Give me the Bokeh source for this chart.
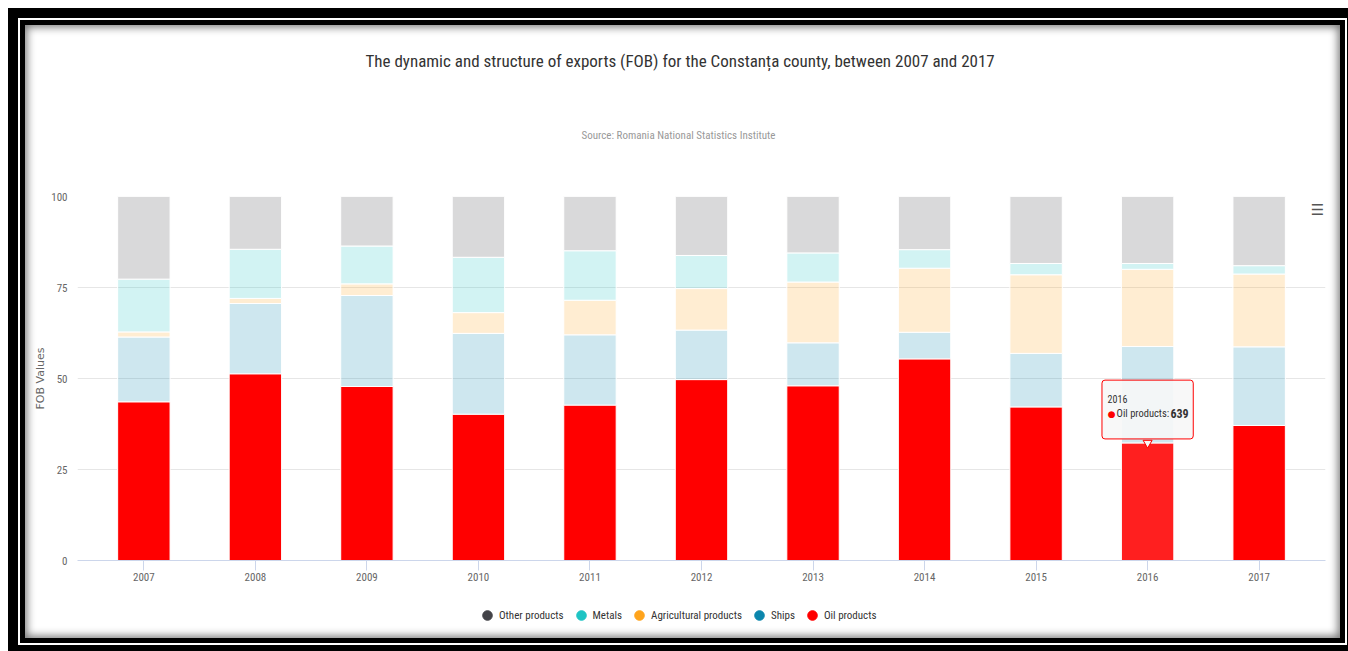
from bokeh.plotting import figure
from bokeh.layouts import column
from bokeh.models import (ColumnDataSource, FactorRange, Range1d, FixedTicker, Title,
                          Legend, LegendItem, Label)
from bokeh.core.properties import value
from bokeh.embed import file_html
from bokeh.resources import INLINE

# ---------------- data (shares of FOB exports, %) ----------------
years = ["2007", "2008", "2009", "2010", "2011", "2012", "2013", "2014", "2015", "2016", "2017"]
oil_products = [43.6, 51.3, 47.8, 40.2, 42.7, 49.7, 48.0, 55.4, 42.2, 32.3, 37.1]
ships = [17.8, 19.3, 25.0, 22.2, 19.3, 13.6, 11.8, 7.3, 14.7, 26.5, 21.6]
agricultural_products = [1.4, 1.4, 3.2, 5.7, 9.5, 11.4, 16.7, 17.6, 21.6, 21.2, 20.0]
metals = [14.5, 13.5, 10.4, 15.2, 13.6, 9.1, 8.0, 5.1, 3.1, 1.6, 2.3]
other_products = [22.7, 14.5, 13.6, 16.7, 14.9, 16.2, 15.5, 14.6, 18.4, 18.4, 19.0]

series_names = ["Other products", "Metals", "Agricultural products", "Ships", "Oil products"]
y_ticks = [0, 25, 50, 75, 100]

tooltip_year = "2016"
tooltip_series = "Oil products"
tooltip_value = 639

title_text = "The dynamic and structure of exports (FOB) for the Constan\u021ba county, between 2007 and 2017"
subtitle_text = "Source: Romania National Statistics Institute"

# ---------------- styling ----------------
FONT = "Liberation Sans Narrow, Roboto Condensed, Arial Narrow, sans-serif"
C_OTHER, C_METALS, C_AGRI, C_SHIPS, C_OIL = "#434348", "#1ec4c4", "#ffa41c", "#0c86ad", "#ff0000"
W, H_MAIN, H_LEG = 1315, 560, 53

src = ColumnDataSource(dict(
    year=years,
    oil=oil_products,
    ships=ships,
    agri=agricultural_products,
    metals=metals,
    other=other_products,
    oil_color=["#ff1f1f" if y == tooltip_year else C_OIL for y in years],
))

p = figure(
    width=W, height=H_MAIN,
    x_range=FactorRange(*years, range_padding=0.095, range_padding_units="absolute"),
    y_range=Range1d(0, 100),
    output_backend="svg", toolbar_location=None,
    min_border_left=52, min_border_right=15, min_border_top=171, min_border_bottom=25,
)
p.border_fill_color = "white"
p.border_fill_alpha = 0
p.background_fill_color = "white"
p.outline_line_color = None

stackers = ["oil", "ships", "agri", "metals", "other"]
p.vbar_stack(
    stackers, x="year", width=0.47, source=src,
    fill_color=["oil_color", C_SHIPS, C_AGRI, C_METALS, C_OTHER],
    fill_alpha=[1.0, 0.2, 0.2, 0.2, 0.2],
    line_color="white", line_width=1,
)

# ---------------- axes & grid ----------------
p.xgrid.grid_line_color = None
p.ygrid.grid_line_color = "#e6e6e6"

xa = p.xaxis[0]
xa.axis_line_color = "#ccd6eb"
xa.major_tick_line_color = "#ccd6eb"
xa.major_tick_out = 10
xa.major_tick_in = 0
xa.major_label_standoff = 2
xa.major_label_text_font = FONT
xa.major_label_text_font_size = "11px"
xa.major_label_text_color = "#666666"

ya = p.yaxis[0]
ya.ticker = FixedTicker(ticks=y_ticks)
ya.axis_line_color = None
ya.major_tick_line_color = None
ya.minor_tick_line_color = None
ya.major_tick_out = 0
ya.major_tick_in = 0
ya.major_label_standoff = 10
ya.major_label_text_font = FONT
ya.major_label_text_font_size = "11px"
ya.major_label_text_color = "#666666"
ya.axis_label = "FOB Values"
ya.axis_label_text_font = "DejaVu Sans"
ya.axis_label_text_font_size = "11px"
ya.axis_label_text_font_style = "normal"
ya.axis_label_text_color = "#666666"
ya.axis_label_standoff = 1

# ---------------- titles ----------------
sub = Title(text=subtitle_text, align="left", offset=504, text_font=FONT,
            text_font_size="11px", text_font_style="normal", text_color="#999999",
            standoff=109)
ttl = Title(text=title_text, align="left", offset=288, text_font=FONT,
            text_font_size="17px", text_font_style="normal", text_color="#333333",
            standoff=4)
p.add_layout(sub, "above")
p.add_layout(ttl, "above")

# ---------------- tooltip ----------------
ti = years.index(tooltip_year)
tip = ColumnDataSource(dict(
    x=[tooltip_year], y=[oil_products[ti]],
    box=["%s\n\u25cf %s: %d" % (tooltip_year, tooltip_series, tooltip_value)],
    head=[tooltip_year], bullet=["\u25cf"], lab=["%s:" % tooltip_series],
    val=[str(tooltip_value)],
))
p.text(x="x", y="y", text="box", source=tip, text_alpha=0,
       text_align="center", text_baseline="bottom", y_offset=-4,
       text_font=value(FONT), text_font_size="10.5px", text_line_height=2.6,
       padding=6, border_radius=3,
       background_fill_color="#f7f7f7", background_fill_alpha=0.9,
       border_line_color=C_OIL, border_line_width=1)
p.scatter(x="x", y="y", source=tip, marker="inverted_triangle", size=9,
          fill_color="#f7f7f7", line_color=C_OIL, line_width=1)
p.text(x="x", y="y", text="head", source=tip, x_offset=-40, y_offset=-44,
       text_align="left", text_baseline="middle", text_font=value(FONT),
       text_font_size="10px", text_color="#333333")
p.text(x="x", y="y", text="bullet", source=tip, x_offset=-36, y_offset=-29,
       text_align="center", text_baseline="middle", text_font=value("DejaVu Sans"),
       text_font_size="9px", text_color=C_OIL)
p.text(x="x", y="y", text="lab", source=tip, x_offset=-31, y_offset=-29,
       text_align="left", text_baseline="middle", text_font=value(FONT),
       text_font_size="10.5px", text_color="#333333")
p.text(x="x", y="y", text="val", source=tip, x_offset=41, y_offset=-29,
       text_align="right", text_baseline="middle", text_font=value(FONT),
       text_font_size="12px", text_font_style="bold", text_color="#333333")

# ---------------- menu icon ----------------
p.add_layout(Label(x=1240, y=351, x_units="screen", y_units="screen", text="\u2630",
                   text_align="center", text_baseline="middle",
                   text_font="DejaVu Sans", text_font_size="15px",
                   text_color="#555555"))

# ---------------- legend (separate strip under the chart) ----------------
leg = figure(width=W, height=H_LEG, x_range=Range1d(0, 1), y_range=Range1d(0, 1),
             output_backend="svg", toolbar_location=None,
             min_border_left=0, min_border_right=0, min_border_top=0, min_border_bottom=0)
leg.axis.visible = False
leg.grid.visible = False
leg.outline_line_color = None
leg.border_fill_alpha = 0
leg.background_fill_alpha = 0

legend_colors = [C_OTHER, C_METALS, C_AGRI, C_SHIPS, C_OIL]
items = []
for name, c in zip(series_names, legend_colors):
    # legend proxy: a single key point kept outside the visible strip
    r = leg.scatter(x=[-1], y=[-1], marker="circle", fill_color=c, line_color=c)
    items.append(LegendItem(label=name, renderers=[r]))
legend = Legend(
    items=items, orientation="horizontal", location=(398, 11),
    glyph_width=24, glyph_height=24, label_standoff=0, spacing=5,
    padding=0, margin=0, border_line_alpha=0, background_fill_alpha=0,
    label_text_font=FONT, label_text_font_size="11px", label_text_color="#333333",
    label_height=24,
)
leg.add_layout(legend, "center")

layout = column(p, leg, spacing=0, styles={
    "margin": "25px 0 0 25px",
    "background-color": "white",
    "box-shadow": ("inset 0 0 8px 2px rgba(0,0,0,0.55), 0 0 0 5px black, "
                   "0 0 0 7px white, 0 0 0 17px black"),
})

open("out.html", "w").write(file_html(layout, INLINE))
